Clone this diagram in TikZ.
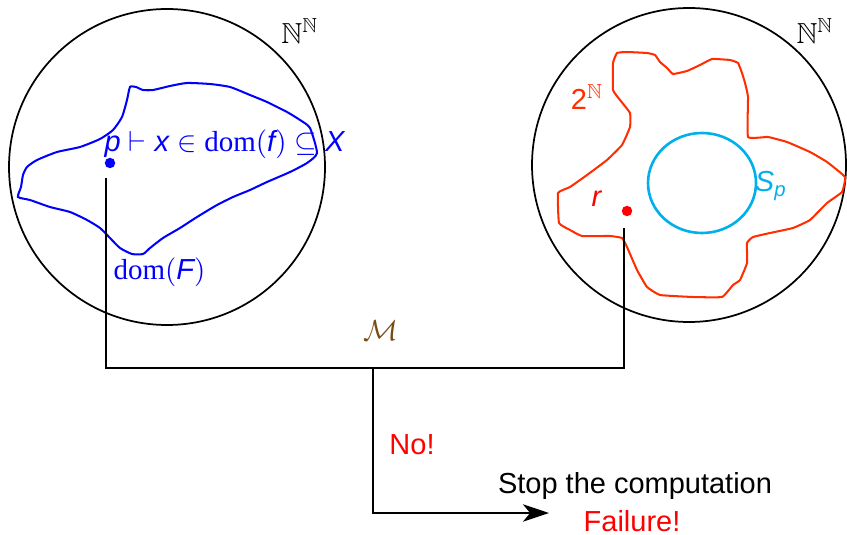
\documentclass[tikz,border=0pt]{standalone}
\usepackage{amsmath}
\usepackage{amssymb}
\usepackage{fontspec}
\setmainfont{Liberation Sans}
\newfontfamily\domfont{Liberation Serif}
\usetikzlibrary{arrows.meta,calc}
\definecolor{blobred}{RGB}{255,45,0}
\definecolor{spcyan}{RGB}{0,175,235}
\definecolor{mbrown}{RGB}{120,75,20}
\newcommand{\sv}[1]{\textit{#1}}
\newcommand{\domop}{\text{\domfont dom}}

\begin{document}
\begin{tikzpicture}[x=0.345pt,y=-0.345pt,>=Stealth,
  world/.style={draw,line width=0.6pt},
  blob/.style={line width=0.7pt},
  dot/.style={circle,fill,inner sep=0pt,minimum size=3.2pt},
  wire/.style={line width=0.7pt}]
  \useasboundingbox (0,0) rectangle (847,534);
  % the two copies of Baire space
  \coordinate (lc) at (167,167);
  \coordinate (rc) at (689,165);
  \draw[world] (lc) circle[radius=158];
  \draw[world] (rc) circle[radius=157];
  \node (lnn) at (300,31) {$\mathbb{N}^{\mathbb{N}}$};
  \node (rnn) at (815,31) {$\mathbb{N}^{\mathbb{N}}$};

  % dom(F)
  \draw[blob,blue] plot[smooth cycle,tension=0.35] coordinates {
    (130,87) (136,87) (143,90) (153,90) (170,86) (187,83) (210,84) (230,87)
    (250,95) (267,102) (287,112) (300,120) (310,128) (317,153) (307,163)
    (290,172) (267,182) (250,190) (233,197) (217,205) (197,217) (180,228)
    (163,238) (150,248) (143,254) (132,254) (120,248) (110,238) (100,228)
    (87,220) (70,212) (50,207) (30,200) (18,197) (21,187) (23,175) (27,167)
    (37,160) (57,152) (80,147) (100,139) (113,130) (122,117) (127,100)};
  \node[dot,blue,minimum size=3.6pt] (p) at (110,163) {};
  \node[blue,anchor=base west,inner sep=0pt] (plab) at (104,152)
    {$\sv{p}\vdash\sv{x}\in\domop(\sv{f})\subseteq\sv{X}$};
  \node[blue,anchor=base west,inner sep=0pt] (domF) at (113,279)
    {$\domop(\sv{F})$};

  % 2^N and S_p
  \draw[blob,blobred] plot[smooth cycle,tension=0.2] coordinates {
    (617,53) (627,52) (647,53) (655,55) (660,62) (667,68) (673,74) (687,71)
    (700,65) (712,59) (730,60) (738,63) (742,73) (745,83) (748,97) (748,137)
    (768,137) (787,142) (810,152) (827,162) (845,177) (842,192) (827,203)
    (810,220) (793,228) (770,233) (753,237) (747,243) (747,263) (740,280)
    (733,285) (722,297) (693,297) (660,295) (647,287) (637,270) (627,247)
    (622,238) (610,236) (582,236) (570,230) (559,223) (558,193) (570,187)
    (587,175) (607,160) (622,145) (630,127) (630,113) (620,100) (613,90)
    (613,63)};
  \node[blobred] (twoN) at (587,97) {2$^{\mathbb{N}}$};
  \draw[spcyan,line width=0.9pt] (702,183) ellipse[x radius=54,y radius=50];
  \node[spcyan] (Sp) at (771,186) {\sv{S}$_{\sv{p}}$};
  \node[dot,red,minimum size=3.6pt] (r) at (627,211) {};
  \node[red] (rlab) at (597,199) {\sv{r}};

  % the machine
  \coordinate (pfoot) at (106,178);
  \coordinate (rfoot) at (624,228);
  \coordinate (mid) at (373,368);
  \coordinate (arrowend) at (549,513);
  \draw[wire] (pfoot) |- (mid) -| (rfoot);
  \draw[wire,-{Stealth[length=9pt,width=6pt,inset=2.5pt]}] (mid) |- (arrowend);
  \node[mbrown] (M) at (381,331) {$\mathcal{M}$};
  \node[red] (no) at (412,445) {No!};
  \node (stop) at (635,486) {Stop the computation};
  \node[red] (fail) at (632,521) {Failure!};
\end{tikzpicture}
\end{document}
